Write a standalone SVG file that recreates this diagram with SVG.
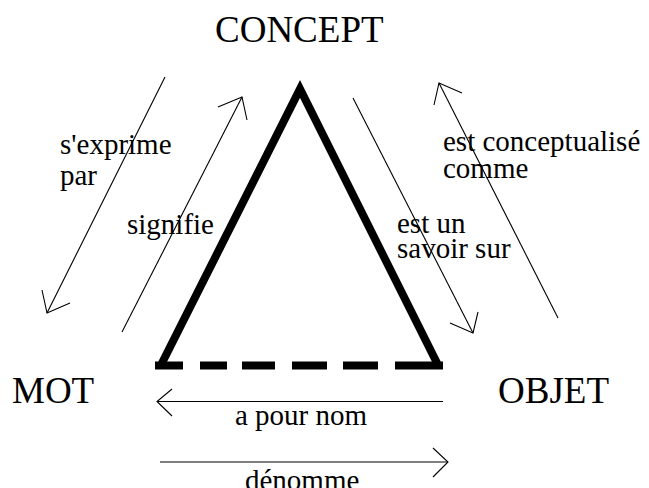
<svg xmlns="http://www.w3.org/2000/svg" width="649" height="488" viewBox="0 0 649 488">
<style>
.bg{fill:#fff}
.big{font-size:37px;fill:#000}
.lbl{font-size:29px;fill:#000}
.thin{fill:none;stroke:#000;stroke-width:1.1}
.thick{fill:none;stroke:#000;stroke-width:8}
</style>
<rect class="bg" x="0" y="0" width="649" height="488"/>
<g id="triangle">
<path class="thick" d="M161 365 L300 89 L438 365" stroke-linejoin="miter" stroke-miterlimit="6"/>
<line class="thick" x1="155" y1="365.5" x2="443" y2="365.5" stroke-dasharray="28 17 27 15 33 17 35 16 35 17 60"/>
</g>
<g font-family="Liberation Serif, Tinos, DejaVu Serif, serif">
<g id="concept"><text class="big" x="215" y="42">CONCEPT</text></g>
<g id="mot"><text class="big" x="12" y="403">MOT</text></g>
<g id="objet"><text class="big" x="498" y="403">OBJET</text></g>
</g>
<g id="connectors">
<line class="thin" x1="165" y1="77" x2="47" y2="313"/>
<polyline class="thin" points="42,290 47,313 70,303"/>
<line class="thin" x1="122" y1="332" x2="242" y2="97"/>
<polyline class="thin" points="218,107 242,97 247,120"/>
<line class="thin" x1="353" y1="98" x2="473" y2="333"/>
<polyline class="thin" points="450,323 473,333 478,312"/>
<line class="thin" x1="558" y1="318" x2="439" y2="83"/>
<polyline class="thin" points="434,105 439,83 462,93"/>
<line class="thin" x1="443" y1="401.5" x2="157" y2="401.5"/>
<polyline class="thin" points="172,389 157,401.5 172,416"/>
<line class="thin" x1="160" y1="462" x2="448" y2="462"/>
<polyline class="thin" points="433,448 448,462 433,477"/>
</g>
<g id="labels" font-family="Liberation Serif, Tinos, DejaVu Serif, serif">
<text class="lbl" x="60" y="154">s'exprime</text>
<text class="lbl" x="60" y="185">par</text>
<text class="lbl" x="127" y="234">signifie</text>
<text class="lbl" x="443" y="151">est conceptualisé</text>
<text class="lbl" x="443" y="178">comme</text>
<text class="lbl" x="397" y="233">est un</text>
<text class="lbl" x="397" y="258">savoir sur</text>
<text class="lbl" x="235" y="425">a pour nom</text>
<text class="lbl" x="245" y="490">dénomme</text>
</g>
</svg>
